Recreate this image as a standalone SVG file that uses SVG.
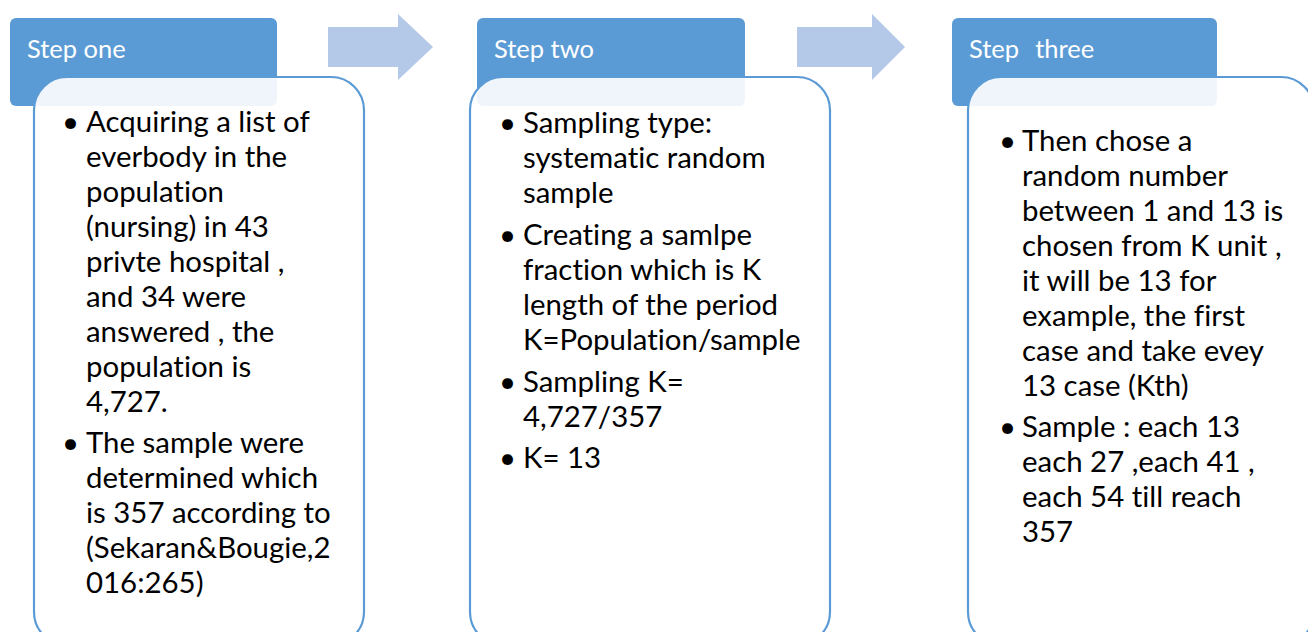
<svg xmlns="http://www.w3.org/2000/svg" width="1308" height="632" viewBox="0 0 1308 632">
<style>
.hdr{fill:#5B9BD5}
.hdrtxt{font-family:"Lato","Liberation Sans",sans-serif;font-size:25.5px;fill:#FFFFFF}
.box{fill:#FFFFFF;fill-opacity:0.9;stroke:#5B9BD5;stroke-width:2.2}
.body{font-family:"Lato","Liberation Sans",sans-serif;font-size:29.4px;fill:#000000;font-variant-ligatures:none;font-feature-settings:"liga" 0,"clig" 0,"dlig" 0}
.arrow{fill:#B4C8E8}
</style>
<g id="connectors">
<polygon class="arrow" points="328,27 398,27 398,14 433,47 398,80 398,67 328,67"/>
<polygon class="arrow" points="797,27 872,27 872,14 905,47 872,80 872,67 797,67"/>
</g>
<g id="step1">
<rect class="hdr" x="10" y="18" width="267" height="88" rx="6"/>
<text class="hdrtxt" x="27" y="58">Step one</text>
<rect class="box" x="34" y="77" width="330" height="568" rx="33"/>
<text class="body">
<tspan x="62" y="132">•</tspan>
<tspan x="86" y="132">Acquiring a list of</tspan>
<tspan x="86" y="167">everbody in the</tspan>
<tspan x="86" y="202">population</tspan>
<tspan x="86" y="237">(nursing) in 43</tspan>
<tspan x="86" y="272">privte hospital ,</tspan>
<tspan x="86" y="307">and 34 were</tspan>
<tspan x="86" y="342">answered , the</tspan>
<tspan x="86" y="377">population is</tspan>
<tspan x="86" y="412">4,727.</tspan>
<tspan x="62" y="453">•</tspan>
<tspan x="86" y="453">The sample were</tspan>
<tspan x="86" y="488">determined which</tspan>
<tspan x="86" y="523">is 357 according to</tspan>
<tspan x="86" y="558">(Sekaran&amp;Bougie,2</tspan>
<tspan x="86" y="593">016:265)</tspan>
</text>
</g>
<g id="step2">
<rect class="hdr" x="477" y="18" width="268" height="88" rx="6"/>
<text class="hdrtxt" x="494" y="58">Step two</text>
<rect class="box" x="470" y="77" width="360" height="568" rx="33"/>
<text class="body">
<tspan x="499" y="133">•</tspan>
<tspan x="523" y="133">Sampling type:</tspan>
<tspan x="523" y="168">systematic random</tspan>
<tspan x="523" y="203">sample</tspan>
<tspan x="499" y="245">•</tspan>
<tspan x="523" y="245">Creating a samlpe</tspan>
<tspan x="523" y="280">fraction which is K</tspan>
<tspan x="523" y="315">length of the period</tspan>
<tspan x="523" y="350">K=Population/sample</tspan>
<tspan x="499" y="392">•</tspan>
<tspan x="523" y="392">Sampling K=</tspan>
<tspan x="523" y="427">4,727/357</tspan>
<tspan x="499" y="468">•</tspan>
<tspan x="523" y="468">K= 13</tspan>
</text>
</g>
<g id="step3">
<rect class="hdr" x="952" y="18" width="265" height="88" rx="6"/>
<text class="hdrtxt" x="969" y="58" xml:space="preserve">Step  <tspan dx="3">three</tspan></text>
<rect class="box" x="968" y="77" width="346" height="568" rx="33"/>
<text class="body">
<tspan x="999" y="151">•</tspan>
<tspan x="1022" y="151">Then chose a</tspan>
<tspan x="1022" y="186">random number</tspan>
<tspan x="1022" y="221">between 1 and 13 is</tspan>
<tspan x="1022" y="256">chosen from K unit ,</tspan>
<tspan x="1022" y="291">it will be 13 for</tspan>
<tspan x="1022" y="326">example, the first</tspan>
<tspan x="1022" y="361">case and take evey</tspan>
<tspan x="1022" y="396">13 case (Kth)</tspan>
<tspan x="999" y="437">•</tspan>
<tspan x="1022" y="437">Sample : each 13</tspan>
<tspan x="1022" y="472">each 27 ,each 41 ,</tspan>
<tspan x="1022" y="507">each 54 till reach</tspan>
<tspan x="1022" y="542">357</tspan>
</text>
</g>
</svg>
